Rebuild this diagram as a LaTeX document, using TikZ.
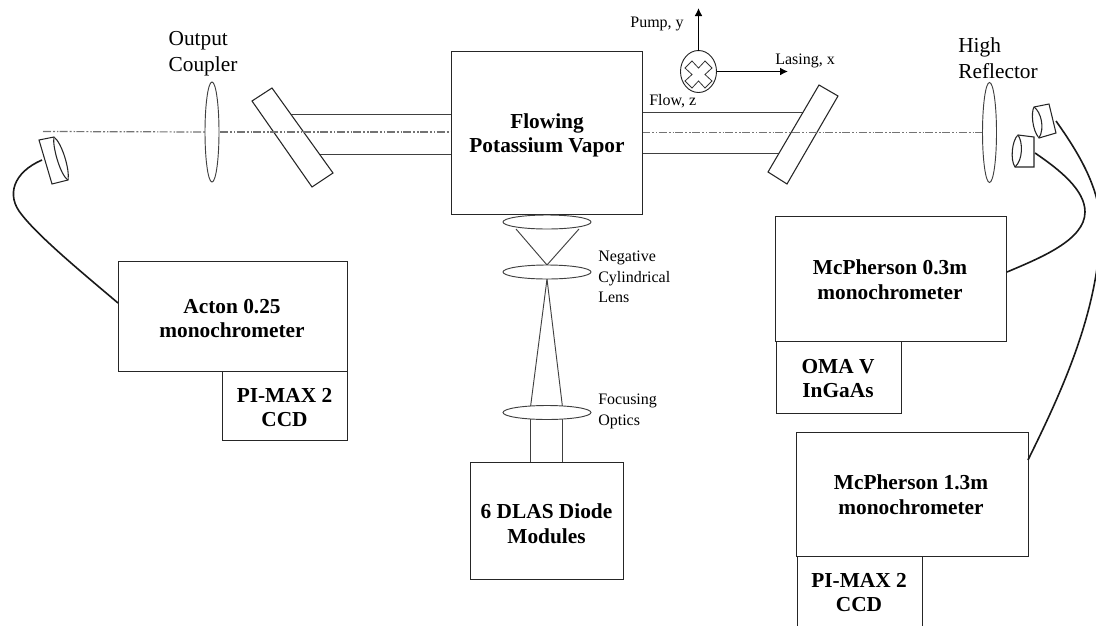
\documentclass[tikz,border=0pt]{standalone}
\usepackage{fontspec}
\setmainfont{Liberation Serif}
\usetikzlibrary{arrows.meta,shapes.geometric}
\def\pxu{0.75pt}
\tikzset{
 box/.style={draw=black!85,line width=0.75pt,fill=white,inner sep=0pt,outer sep=0pt},
 boxt/.style={font=\fontsize{16}{18.6}\selectfont\bfseries,align=center,inner sep=0pt,yshift=-1.1pt},
 lab/.style={font=\fontsize{16}{19.5}\selectfont,align=left,inner sep=0pt},
 small/.style={font=\fontsize{12}{15.3}\selectfont,align=left,inner sep=0pt},
 lens/.style={draw=black!75,line width=0.7pt,fill=white},
 beam/.style={draw=black!75,line width=0.7pt},
 axisline/.style={draw=black!55,line width=0.9pt,dash pattern=on 6pt off 1.5pt on 1.5pt off 1.5pt on 1pt off 1pt},
 fiber/.style={draw=black!90,line width=1.2pt},
 collim/.style={draw=black!85,line width=0.8pt,fill=white},
 arrowline/.style={draw=black,line width=1.25pt,-{Latex[length=6pt,width=6pt]}}
}
\begin{document}
\begin{tikzpicture}[x=0.75pt,y=-0.75pt]
\useasboundingbox (0,0) rectangle (1096,625);
\clip (0,0) rectangle (1096,625);
% beams
\draw[beam] (290,114) -- (451,114);
\draw[beam] (300,154) -- (451,154);
\draw[beam] (642,112) -- (805,112);
\draw[beam] (642,153) -- (782,153);
% mirrors
\draw[collim] (252,101) -- (272,88) -- (333,173) -- (312,187) -- cycle;
\draw[collim] (819,85) -- (838,96) -- (787,184) -- (768,172) -- cycle;
\draw[axisline] (43,131.5) -- (205,132);
\draw[axisline] (220,132) -- (451,132);
\draw[axisline] (642,132.5) -- (983,132.5);
% lenses
\draw[lens] (212,132) ellipse (7 and 50);
\draw[lens] (989.5,132.5) ellipse (7 and 50);
% vapor
\node[box,minimum width=191*\pxu,minimum height=163*\pxu,anchor=north west] (vapor) at (451,51) {};
\node[boxt] (vaport) at (547,134) {Flowing\\Potassium Vapor};
% pump lenses and beams
\draw[beam] (516,229) -- (547,265) -- (579,229);
\draw[beam] (547,279) -- (530.5,407);
\draw[beam] (547,279) -- (562.5,407);
\draw[beam] (530.5,419) -- (530.5,462);
\draw[beam] (562.5,419) -- (562.5,462);
\draw[lens] (547,222) ellipse (44 and 7);
\draw[lens] (547,272) ellipse (44 and 7);
\draw[lens] (547,412.5) ellipse (44 and 7);
% diode
\node[box,minimum width=153*\pxu,minimum height=117*\pxu,anchor=north west] (diode) at (470,462) {};
\node[boxt] (diodet) at (546.5,522) {6 DLAS Diode\\Modules};
% Acton
\node[box,minimum width=125*\pxu,minimum height=70*\pxu,anchor=north west] (pi1) at (222,370) {};
\node[box,minimum width=229*\pxu,minimum height=110*\pxu,anchor=north west] (acton) at (118,261) {};
\node[boxt] (actont) at (232,317) {Acton 0.25\\monochrometer};
\node[boxt] (pi1t) at (284.5,406) {PI-MAX 2\\CCD};
% McPherson 0.3
\node[box,minimum width=125*\pxu,minimum height=72*\pxu,anchor=north west] (oma) at (776,341) {};
\node[box,minimum width=231*\pxu,minimum height=125*\pxu,anchor=north west] (mc3) at (775,216) {};
\node[boxt] (mc3t) at (890,278) {McPherson 0.3m\\monochrometer};
\node[boxt] (omat) at (838,377) {OMA V\\InGaAs};
% McPherson 1.3
\node[box,minimum width=125*\pxu,minimum height=72*\pxu,anchor=north west] (pi2) at (797,556) {};
\node[box,minimum width=232*\pxu,minimum height=124*\pxu,anchor=north west] (mc13) at (796,432) {};
\node[boxt] (mc13t) at (911,493) {McPherson 1.3m\\monochrometer};
\node[boxt] (pi2t) at (859,591) {PI-MAX 2\\CCD};
% fibers
\coordinate (f1) at (42,160);
\draw[fiber] (f1) .. controls (14,172) and (5,195) .. (22,215) .. controls (40,238) and (85,275) .. (118,303);
\coordinate (f2) at (1035,153);
\draw[fiber] (f2) .. controls (1060,170) and (1085,190) .. (1085,212) .. controls (1085,240) and (1040,258) .. (1007,272);
\coordinate (f3) at (1056,121);
\draw[fiber] (f3) .. controls (1080,155) and (1105,195) .. (1100,240) .. controls (1095,320) and (1060,395) .. (1028,460);
% collimators
\draw[collim] (39,140) -- (54,137) .. controls (62,143) and (70,170) .. (68,180) -- (52,184) -- cycle;
\draw[collim] (54,137) .. controls (52,145) and (60,175) .. (68,180);
\draw[collim] (1018,135) -- (1034,137) -- (1034,167) -- (1015,167) .. controls (1010,160) and (1012,140) .. (1018,135) -- cycle;
\draw[collim] (1018,135) .. controls (1023,142) and (1023,160) .. (1015,167);
\draw[collim] (1034,107) -- (1049,104) -- (1056,133) -- (1039,138) .. controls (1032,130) and (1031,112) .. (1034,107) -- cycle;
\draw[collim] (1034,107) .. controls (1041,112) and (1045,128) .. (1039,138);
% axes symbol
\node[draw=black!85,line width=0.7pt,ellipse,minimum width=36*\pxu,minimum height=42*\pxu,inner sep=0pt,outer sep=0pt] (pt) at (698.5,71.5) {};
\draw[line width=0.6pt,draw=black!80] (692,61) -- (698.5,68) -- (705,61) -- (712,68) -- (705,74.5) -- (712,81) -- (705,88) -- (698.5,81) -- (692,88) -- (685,81) -- (692,74.5) -- (685,68) -- cycle;
\coordinate (py) at (698.5,8);
\coordinate (px) at (788,71.5);
\draw[arrowline] (pt.north) -- (py);
\draw[arrowline] (pt.east) -- (px);
\node[small,anchor=east] (pumpl) at (684,24) {Pump, y};
\node[small,anchor=west] (lasl) at (775,61) {Lasing, x};
\node[small,anchor=west] (flowl) at (649,101) {Flow, z};
\node[lab] (oc) at (203,53.5) {Output\\Coupler};
\node[lab] (hr) at (998,58.5) {High\\Reflector};
\node[small,anchor=north west] (neglens) at (598,251) {Negative\\Cylindrical\\Lens};
\node[small,anchor=north west] (focus) at (598,394) {Focusing\\Optics};
\end{tikzpicture}
\end{document}
